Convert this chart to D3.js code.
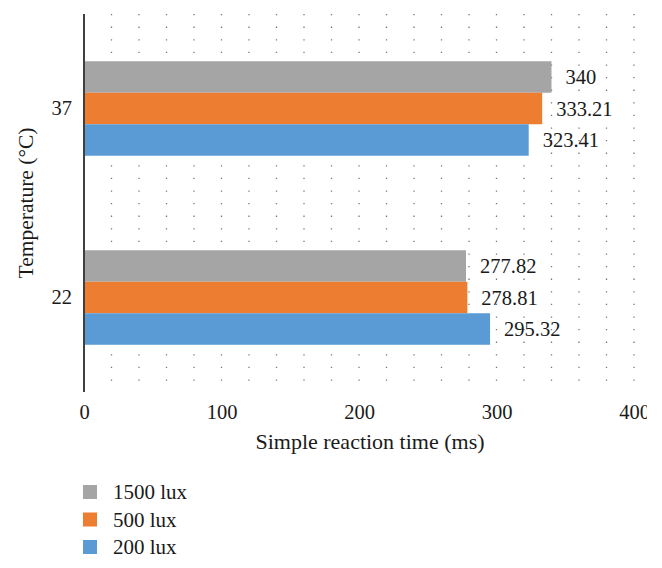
<!DOCTYPE html>
<html><head><meta charset="utf-8">
<script src="https://cdn.jsdelivr.net/npm/d3@7"></script>
<style>body{margin:0;background:#fff}svg{display:block}text{font-family:"Liberation Serif","DejaVu Serif",serif;fill:#1a1a1a}</style>
</head><body>
<script>
const categories = ["37", "22"];
const series = ["1500 lux", "500 lux", "200 lux"];
const colors = ["#A5A5A5", "#ED7D31", "#5B9BD5"];
const values1500 = [340, 277.82];
const values500 = [333.21, 278.81];
const values200 = [323.41, 295.32];
const valueLabels1500 = ["340", "277.82"];
const valueLabels500 = ["333.21", "278.81"];
const valueLabels200 = ["323.41", "295.32"];
const xTicks = [0, 100, 200, 300, 400];
const gridTicks = d3.range(20, 401, 20);

const W = 662, H = 568;
const m = {left: 84, right: 28, top: 14, bottom: 176};
const svg = d3.select("body").append("svg").attr("width", W).attr("height", H);
svg.append("defs").append("clipPath").attr("id", "clip")
  .append("rect").attr("x", 0).attr("y", 0).attr("width", 647).attr("height", H);
const root = svg.append("g").attr("clip-path", "url(#clip)");
const x = d3.scaleLinear().domain([0, 400]).range([m.left, W - m.right]);
const y0 = d3.scaleBand().domain(categories).range([m.top, H - m.bottom]).paddingInner(0.5).paddingOuter(0.25);
const y1 = d3.scaleBand().domain(series).range([0, y0.bandwidth()]);

// grid
root.append("g").selectAll("line").data(gridTicks).join("line")
  .attr("x1", d => x(d)).attr("x2", d => x(d))
  .attr("y1", m.top).attr("y2", H - m.bottom)
  .attr("stroke", "#777").attr("stroke-width", 1.3)
  .attr("stroke-dasharray", "1.3,11.3");

const data = categories.map((c, i) => ({
  cat: c,
  vals: [
    {s: series[0], v: values1500[i], l: valueLabels1500[i], c: colors[0]},
    {s: series[1], v: values500[i], l: valueLabels500[i], c: colors[1]},
    {s: series[2], v: values200[i], l: valueLabels200[i], c: colors[2]}
  ]
}));

const g = root.append("g").selectAll("g").data(data).join("g")
  .attr("transform", d => `translate(0,${y0(d.cat)})`);
g.selectAll("rect").data(d => d.vals).join("rect")
  .attr("x", x(0)).attr("y", d => y1(d.s))
  .attr("width", d => x(d.v) - x(0)).attr("height", y1.bandwidth())
  .attr("fill", d => d.c);
g.selectAll("text").data(d => d.vals).join("text")
  .attr("x", d => x(d.v) + 14).attr("y", d => y1(d.s) + y1.bandwidth() / 2)
  .attr("dy", "0.35em").attr("font-size", 20.5).text(d => d.l);

// y axis line
root.append("line").attr("x1", x(0)).attr("x2", x(0)).attr("y1", m.top).attr("y2", H - m.bottom)
  .attr("stroke", "#404040").attr("stroke-width", 2);

// x ticks
const xa = root.append("g").attr("transform", `translate(0,${H - m.bottom})`)
  .call(d3.axisBottom(x).tickValues(xTicks).tickSize(0).tickPadding(12).tickFormat(d3.format("d")));
xa.select(".domain").remove();
xa.selectAll("text").attr("font-size", 20.5).attr("font-family", "Liberation Serif").attr("fill", "#1a1a1a");

// y ticks
const ya = root.append("g").attr("transform", `translate(${x(0)},0)`)
  .call(d3.axisLeft(y0).tickSize(0).tickPadding(12));
ya.select(".domain").remove();
ya.selectAll("text").attr("font-size", 20.5).attr("font-family", "Liberation Serif").attr("fill", "#1a1a1a");

// titles
root.append("text").attr("x", 370).attr("y", 449).attr("text-anchor", "middle")
  .attr("font-size", 22).text("Simple reaction time (ms)");
root.append("text").attr("transform", "translate(25,203) rotate(-90)").attr("dy", "0.35em")
  .attr("text-anchor", "middle").attr("font-size", 21.5).text("Temperature (°C)");

// legend
const lg = root.append("g").selectAll("g").data(series).join("g")
  .attr("transform", (d, i) => `translate(83,${492 + i * 27.5})`);
lg.append("rect").attr("x", 0).attr("y", -7).attr("width", 14).attr("height", 14)
  .attr("fill", (d, i) => colors[i]);
lg.append("text").attr("x", 30).attr("dy", "0.35em").attr("font-size", 21).text(d => d);
</script>
</body></html>
